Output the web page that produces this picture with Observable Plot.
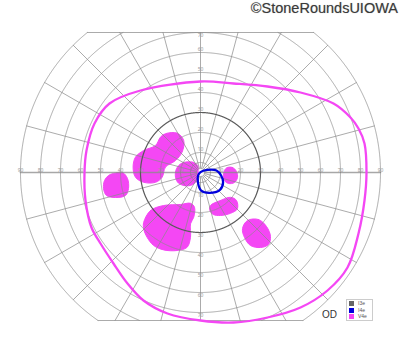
<!DOCTYPE html>
<html><head><meta charset="utf-8">
<script src="https://cdn.jsdelivr.net/npm/d3@7"></script>
<script src="https://cdn.jsdelivr.net/npm/@observablehq/plot@0.6"></script>
<style>
body{margin:0;background:#fff;font-family:"Liberation Sans",Arial,sans-serif;}
#wrap{position:relative;width:400px;height:352px;overflow:hidden;}
#title{position:absolute;right:2px;top:0px;font-size:14.5px;color:#3a3a3a;text-shadow:0 0 1px #aaa;white-space:nowrap;}
#od{position:absolute;left:322px;top:309px;font-size:10px;color:#333;}
#legend{position:absolute;left:346px;top:299px;width:25px;height:20px;border:1px solid #ccc;background:#fff;font-size:5px;color:#555;}
#legend div{position:relative;height:6.5px;line-height:6.5px;padding-left:11px;}
#legend span{position:absolute;left:2px;top:1px;width:5px;height:5px;}
</style></head>
<body>
<div id="wrap">
  <div id="chart"></div>
  <div id="title">©StoneRoundsUIOWA</div>
  <div id="od">OD</div>
  <div id="legend"></div>
</div>
<script>
// ---- data (degrees of visual field, x = horizontal, y = vertical) ----
const circleRadii = [5, 10, 20, 30, 40, 50, 60, 70, 80, 90];
const radialAngles = [0, 15, 30, 45, 60, 75, 90, 105, 120, 135, 150, 165, 180, 195, 210, 225, 240, 255, 270, 285, 300, 315, 330, 345];
const horizontalTicks = [10, 20, 30, 40, 50, 60, 70, 80, 90];
const verticalTicks = [10, 20, 30, 40, 50, 60, 70];
const fieldTop = 70, fieldBottom = -74, fieldOuter = 90;
const darkCircle = 30;

const legendNames = ["I3e", "I4e", "V4e"];
const legendColors = ["#666666", "#0000dd", "#f447f4"];

// V4e outer isopter
const v4eIsopter = [[0,45.5],[16.5,44.5],[33.5,43],[50,40],[66.5,34.5],[75,27.5],[79,22],[82,14.5],[83,0],[82,-14],[79,-30.5],[73.5,-47.5],[63.5,-59],[50,-67.5],[33.5,-72.5],[16.5,-75],[0,-74],[-16.5,-70.5],[-28.5,-64],[-36.5,-55.5],[-43.5,-45.5],[-50,-35.5],[-54.5,-27.5],[-57.5,-14],[-58,0],[-57,11],[-53,24.5],[-45.5,34.5],[-30,41]];
// I4e central isopter
const i4eIsopter = [[0,0.2],[3.3,1.3],[8,1],[10.3,-1.5],[11.3,-4.8],[9.7,-8.7],[4.2,-10.2],[0.3,-9],[-1.3,-4.8],[-1.2,-1.5]];
// V4e scotomas (filled)
const scotomaUpperLeft = [[-17.5,19.4],[-11.7,19.7],[-8.4,16],[-9.2,10.2],[-12.5,6],[-17.5,2.7],[-19.2,-2.4],[-22.5,-4.9],[-28.4,-4.9],[-32.5,-2.4],[-33.7,2.7],[-32.5,7.7],[-28.4,11],[-22.5,13.5],[-20,17.7]];
const scotomaLeft = [[-43.5,-0.5],[-39,0],[-36.5,-3],[-36,-8],[-37.5,-11.5],[-42.5,-12.5],[-47,-11.5],[-48.5,-8],[-48,-4],[-46,-1.5]];
const scotomaCenterLeft = [[-9.2,4.7],[-4.2,5.2],[-1.4,3.5],[-1.2,0.2],[-1.4,-3.2],[-3.4,-5.7],[-6.7,-6.7],[-10.9,-5.4],[-12.5,-2.4],[-12,1.9]];
const scotomaCenterRight = [[13,2.3],[16,2.5],[18,0.5],[18.5,-2.5],[17,-5],[14,-5.5],[12,-4],[11.5,-0.5]];
const scotomaLowerCenter = [[5,-16.5],[10,-14],[15,-12.4],[18,-14],[18.4,-18.2],[15,-20.4],[10,-21.5],[6.4,-21],[4.7,-19]];
const scotomaLowerRight = [[23.5,-24],[29,-23.5],[33,-27],[35,-32],[34,-36],[30,-37.5],[25,-36.5],[22,-32.5],[21,-28]];
const scotomaLowerLeft = [[-28.4,-24.9],[-25,-19],[-18.4,-16.5],[-10,-16],[-5,-15.4],[-3,-17.4],[-3.4,-22.4],[-5,-25.7],[-5,-32.4],[-6.7,-37.4],[-11.7,-39],[-18.4,-38.7],[-23.4,-36.5],[-26.7,-32.4],[-28.4,-28.2]];
const scotomas = [scotomaUpperLeft, scotomaLeft, scotomaCenterLeft, scotomaCenterRight, scotomaLowerCenter, scotomaLowerRight, scotomaLowerLeft];

// ---- build grid geometry (clipped to the chart's field window) ----
const inField = (x, y) => y <= fieldTop && y >= fieldBottom;
function circlePoints(r) {
  const pts = []; let seg = 0, prev = false;
  for (let a = 0; a <= 360; a += 0.25) {
    const t = a * Math.PI / 180, x = r * Math.cos(t), y = r * Math.sin(t);
    const ok = inField(x, y);
    if (ok) { if (!prev) seg++; pts.push({x, y, z: r + "-" + seg}); }
    prev = ok;
  }
  return pts;
}
const circleData = circleRadii.filter(r => r !== darkCircle).flatMap(circlePoints);
const darkData = circlePoints(darkCircle);
function radialPoints(a) {
  const t = a * Math.PI / 180, s = Math.sin(t);
  let R = fieldOuter;
  if (s > 0) R = Math.min(R, fieldTop / s);
  if (s < 0) R = Math.min(R, fieldBottom / s);
  const r0 = 2;
  return [{x: r0 * Math.cos(t), y: r0 * Math.sin(t), z: a}, {x: R * Math.cos(t), y: R * Math.sin(t), z: a}];
}
const radialData = radialAngles.filter(a => a % 180 !== 0).flatMap(radialPoints);
const axisData = [0, 180].flatMap(radialPoints);
const topHalf = Math.sqrt(fieldOuter ** 2 - fieldTop ** 2);
const botHalf = Math.sqrt(fieldOuter ** 2 - fieldBottom ** 2);
const borderData = [
  {x: -topHalf, y: fieldTop, z: "t"}, {x: topHalf, y: fieldTop, z: "t"},
  {x: -botHalf, y: fieldBottom, z: "b"}, {x: botHalf, y: fieldBottom, z: "b"}
];
const hLabels = horizontalTicks.flatMap(v => [{x: v, y: 0, t: String(v)}, {x: -v, y: 0, t: String(v)}]);
const vTopLabels = verticalTicks.filter(v => v < fieldTop).map(v => ({x: 0, y: v, t: String(v)}));
const vTopEdge = verticalTicks.filter(v => v >= fieldTop).map(v => ({x: 0, y: v, t: String(v)}));
const vBotLabels = verticalTicks.map(v => ({x: 0, y: -v, t: String(v)}));

const toObj = arr => arr.map(([x, y]) => ({x, y}));
const gridStroke = "#8a8a8a";
const labelStyle = {x: "x", y: "y", text: "t", fontSize: 5, fill: "#999"};

const chart = Plot.plot({
  width: 400, height: 352, margin: 0,
  x: {domain: [-100, 100], axis: null},
  y: {domain: [-90, 86], axis: null},
  style: {background: "#fff"},
  marks: [
    ...scotomas.map(s => Plot.line(toObj(s), {x: "x", y: "y", curve: "catmull-rom-closed", fill: legendColors[2], stroke: legendColors[2], strokeWidth: 1})),
    Plot.line(circleData, {x: "x", y: "y", z: "z", stroke: gridStroke, strokeOpacity: 0.72, strokeWidth: 1}),
    Plot.line(radialData, {x: "x", y: "y", z: "z", stroke: gridStroke, strokeOpacity: 0.72, strokeWidth: 1}),
    Plot.line(axisData, {x: "x", y: "y", z: "z", stroke: gridStroke, strokeOpacity: 0.75, strokeWidth: 1.7}),
    Plot.line(borderData, {x: "x", y: "y", z: "z", stroke: gridStroke, strokeOpacity: 0.72, strokeWidth: 1}),
    Plot.line(darkData, {x: "x", y: "y", z: "z", stroke: "#5a5a5a", strokeWidth: 1.2}),
    Plot.text(hLabels, {...labelStyle, dy: -2.5}),
    Plot.text(vTopLabels, {...labelStyle, dy: -3}),
    Plot.text(vTopEdge, {...labelStyle, dy: 3}),
    Plot.text(vBotLabels, {...labelStyle, dy: 3}),
    Plot.line(toObj(v4eIsopter), {x: "x", y: "y", curve: "catmull-rom-closed", stroke: legendColors[2], strokeWidth: 2.3}),
    Plot.line(toObj(i4eIsopter), {x: "x", y: "y", curve: "catmull-rom-closed", stroke: legendColors[1], strokeWidth: 2.3})
  ]
});
document.getElementById("chart").appendChild(chart);

const legend = document.getElementById("legend");
legendNames.forEach((n, i) => {
  const row = document.createElement("div");
  const sw = document.createElement("span");
  sw.style.background = legendColors[i];
  row.appendChild(sw);
  row.appendChild(document.createTextNode(n));
  legend.appendChild(row);
});
</script>
</body></html>
